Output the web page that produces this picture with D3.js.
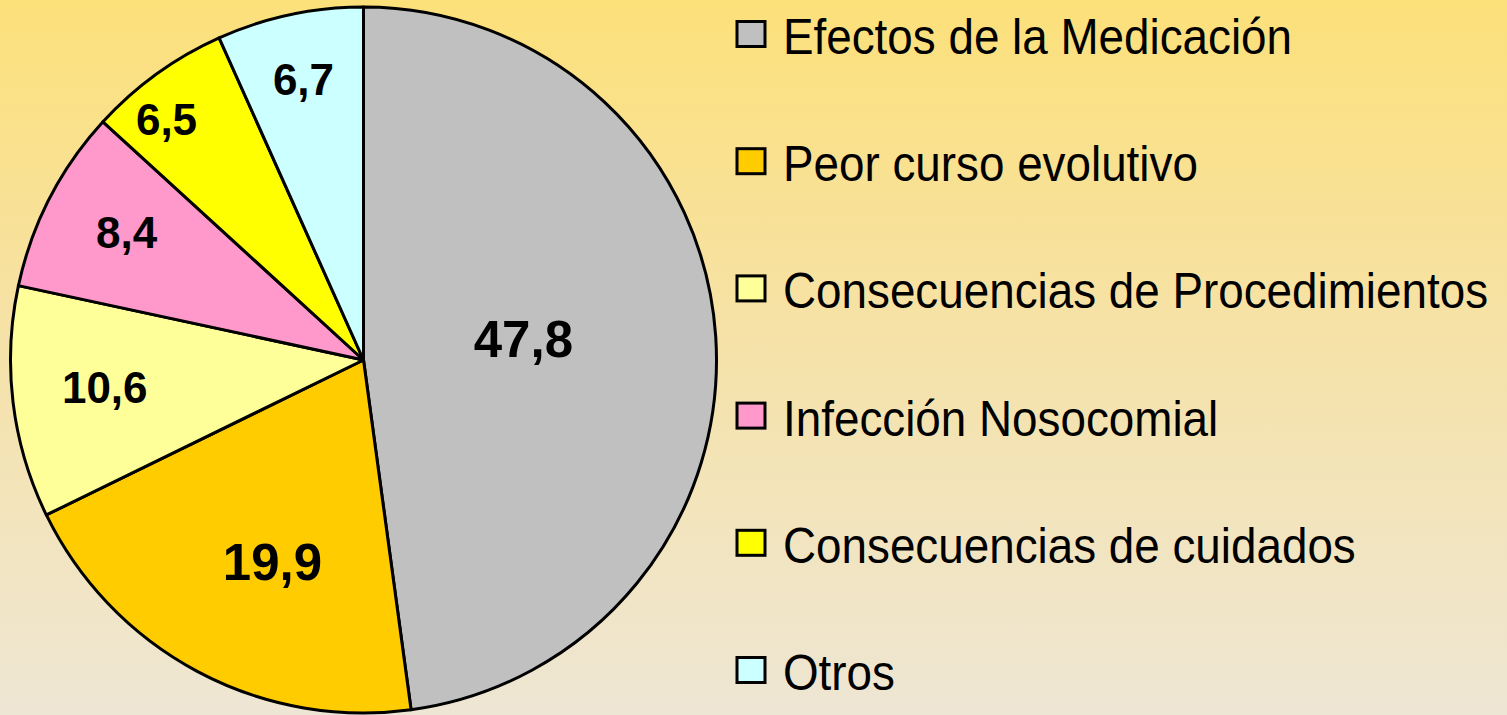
<!DOCTYPE html>
<html>
<head>
<meta charset="utf-8">
<script src="https://cdn.jsdelivr.net/npm/d3@7"></script>
<style>
  html, body { margin: 0; padding: 0; overflow: hidden; }
  svg { display: block; }
</style>
</head>
<body>
<svg id="chart" width="1507" height="715"></svg>
<script>
// ---- data ----
const categories = [
  "Efectos de la Medicación",
  "Peor curso evolutivo",
  "Consecuencias de Procedimientos",
  "Infección Nosocomial",
  "Consecuencias de cuidados",
  "Otros"
];
const values = [47.8, 19.9, 10.6, 8.4, 6.5, 6.7];
const valueLabels = ["47,8", "19,9", "10,6", "8,4", "6,5", "6,7"];
const colors = ["#C0C0C0", "#FFCC00", "#FFFF99", "#FF99CC", "#FFFF00", "#CCFFFF"];

// ---- layout (not data) ----
const W = 1507, H = 715;
const cx = 363.5, cy = 360, R = 353;
const labelRadiusFrac = [0.457, 0.627, 0.737, 0.763, 0.882, 0.813];
const labelAngleShiftDeg = [-3.8, -3.8, 1.0, 1.1, -3.4, 0];

const svg = d3.select("#chart");

// background gradient
const defs = svg.append("defs");
const grad = defs.append("linearGradient")
  .attr("id", "bg").attr("x1", 0).attr("y1", 0).attr("x2", 0).attr("y2", 1);
grad.append("stop").attr("offset", "0%").attr("stop-color", "#FCE07A");
grad.append("stop").attr("offset", "45%").attr("stop-color", "#F6E2A6");
grad.append("stop").attr("offset", "100%").attr("stop-color", "#EEE6D4");
svg.append("rect").attr("width", W).attr("height", H).attr("fill", "url(#bg)");

const data = categories.map((c, i) => ({ cat: c, value: values[i], label: valueLabels[i], color: colors[i], i }));

const pie = d3.pie().value(d => d.value).sort(null);
const arcs = pie(data);
const arc = d3.arc().innerRadius(0).outerRadius(R);

const g = svg.append("g").attr("transform", `translate(${cx},${cy})`);

g.selectAll("path.slice")
  .data(arcs)
  .join("path")
  .attr("class", "slice")
  .attr("d", arc)
  .attr("fill", d => d.data.color)
  .attr("stroke", "#000")
  .attr("stroke-width", 3)
  .attr("stroke-linejoin", "round");

g.selectAll("text.val")
  .data(arcs)
  .join("text")
  .attr("class", "val")
  .attr("transform", d => {
    const r = R * labelRadiusFrac[d.data.i];
    const a = (d.startAngle + d.endAngle) / 2 + labelAngleShiftDeg[d.data.i] * Math.PI / 180;
    return `translate(${r * Math.sin(a)},${-r * Math.cos(a)})`;
  })
  .attr("text-anchor", "middle")
  .attr("dy", "0.36em")
  .attr("font-family", "'Liberation Sans', Arial, sans-serif")
  .attr("font-weight", "bold")
  .attr("font-size", d => d.data.value > 15 ? 51 : 44)
  .attr("fill", "#000")
  .text(d => d.data.label);

// legend
const legY = d3.scalePoint().domain(categories).range([34, 670]);
const leg = svg.append("g");
const items = leg.selectAll("g.item")
  .data(data)
  .join("g")
  .attr("class", "item")
  .attr("transform", d => `translate(0,${legY(d.cat)})`);

items.append("rect")
  .attr("x", 737).attr("y", -12.5)
  .attr("width", 28).attr("height", 25)
  .attr("fill", d => d.color)
  .attr("stroke", "#000")
  .attr("stroke-width", 3);

items.append("text")
  .attr("transform", "translate(783,20) scale(1,1.08)")
  .attr("font-family", "'Liberation Sans', Arial, sans-serif")
  .attr("font-size", 45.8)
  .attr("fill", "#000")
  .text(d => d.cat);
</script>
</body>
</html>
